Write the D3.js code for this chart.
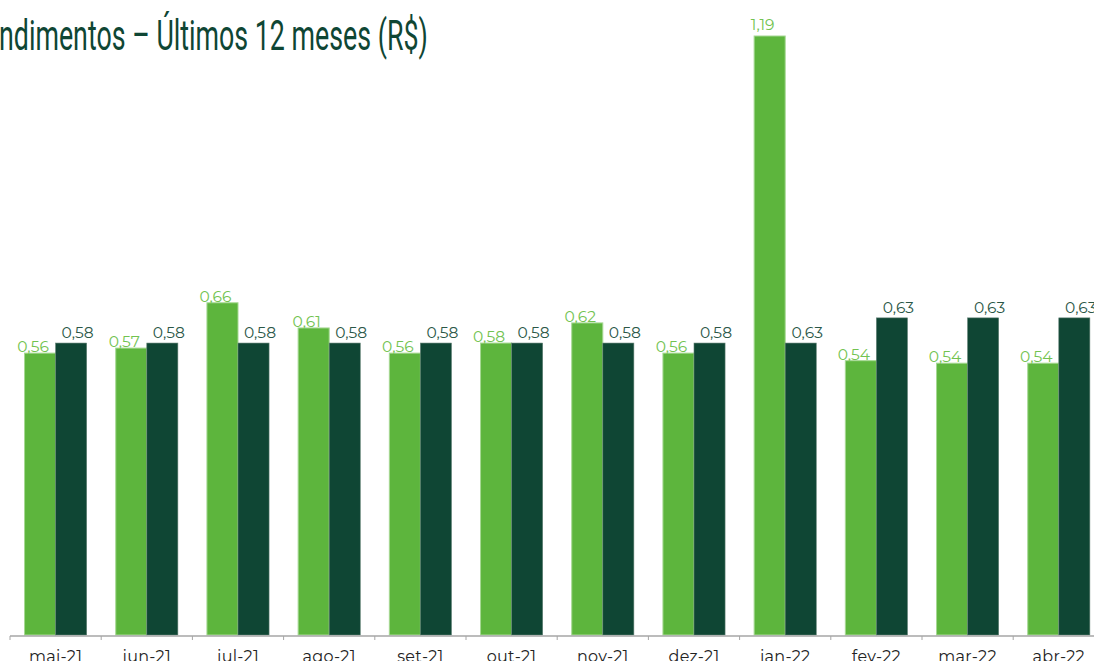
<!DOCTYPE html>
<html>
<head>
<meta charset="utf-8">
<script src="https://cdn.jsdelivr.net/npm/d3@7"></script>
<style>
  body { margin: 0; background: #fff; overflow: hidden; }
  svg { display: block; }
</style>
</head>
<body>
<svg width="1094" height="661"></svg>
<script>
/* global d3:true */

const months = ['mai-21', 'jun-21', 'jul-21', 'ago-21', 'set-21', 'out-21', 'nov-21', 'dez-21', 'jan-22', 'fev-22', 'mar-22', 'abr-22']
// bar heights as drawn in the source picture
const lightValues = [0.56, 0.57, 0.66, 0.61, 0.56, 0.58, 0.62, 0.56, 1.19, 0.545, 0.54, 0.54]
const darkValues = [0.58, 0.58, 0.58, 0.58, 0.58, 0.58, 0.58, 0.58, 0.58, 0.63, 0.63, 0.63]
// printed labels
const lightLabels = ['0,56', '0,57', '0,66', '0,61', '0,56', '0,58', '0,62', '0,56', '1,19', '0,54', '0,54', '0,54']
const darkLabels = ['0,58', '0,58', '0,58', '0,58', '0,58', '0,58', '0,58', '0,58', '0,63', '0,63', '0,63', '0,63']
const title = 'Rendimentos – Últimos 12 meses (R$)'

const lightColor = '#5db53d'
const darkColor = '#0f4634'

const svg = d3.select('svg')
const baseY = 635

const x = d3.scaleBand()
  .domain(months)
  .range([10, 10 + 91.2 * months.length])
  .paddingInner(0)
  .paddingOuter(0)

const sub = d3.scaleBand()
  .domain(['light', 'dark'])
  .range([0, x.bandwidth()])
  .paddingInner(0)
  .paddingOuter(0.468)

const y = d3.scaleLinear().domain([0, 1.19]).range([baseY, 36])

// title, cut off at the left edge like the source (condensed by scaling)
const titleText = svg.append('text')
  .attr('x', 0)
  .attr('y', 50)
  .attr('fill', '#0f4634')
  .style('font-family', 'Roboto, "Noto Sans", sans-serif')
  .style('font-size', '42px')
  .style('font-weight', 400)
  .text(title)

const full = titleText.node().getComputedTextLength()
const pre = titleText.node().getSubStringLength(0, 2)
const sx = 429 / (full - pre)
titleText.attr('transform', 'translate(' + (-1 - pre * sx) + ',0) scale(' + sx + ',1)')

const groups = svg.append('g')
  .selectAll('g')
  .data(months)
  .enter().append('g')
  .attr('transform', (d) => 'translate(' + x(d) + ',0)')

groups.append('rect')
  .attr('x', sub('light'))
  .attr('y', (d, i) => y(lightValues[i]))
  .attr('width', sub.bandwidth())
  .attr('height', (d, i) => baseY - y(lightValues[i]))
  .attr('fill', lightColor)
  .attr('stroke', '#a6d893')
  .attr('stroke-width', 1)

groups.append('rect')
  .attr('x', sub('dark'))
  .attr('y', (d, i) => y(darkValues[i]))
  .attr('width', sub.bandwidth())
  .attr('height', (d, i) => baseY - y(darkValues[i]))
  .attr('fill', darkColor)
  .attr('stroke', '#5f7f72')
  .attr('stroke-width', 0.6)

const labelFont = '"Montserrat", "Noto Sans", sans-serif'

// the tallest bar's label sits a bit higher in the source
groups.append('text')
  .attr('x', sub('light') + sub.bandwidth() / 2 - 7)
  .attr('y', (d, i) => y(lightValues[i]) - (lightValues[i] > 1 ? 6 : 1))
  .attr('text-anchor', 'middle')
  .attr('fill', '#72c350')
  .style('font-family', labelFont)
  .style('font-size', '15.5px')
  .text((d, i) => lightLabels[i])

groups.append('text')
  .attr('x', sub('dark') + sub.bandwidth() / 2 + 6.5)
  .attr('y', (d, i) => y(darkValues[i]) - 5)
  .attr('text-anchor', 'middle')
  .attr('fill', '#2b5747')
  .style('font-family', labelFont)
  .style('font-size', '15.5px')
  .text((d, i) => darkLabels[i])

// x axis
const axis = svg.append('g')
  .attr('transform', 'translate(0,' + (baseY + 1) + ')')

axis.append('line')
  .attr('x1', 10)
  .attr('x2', 1094)
  .attr('stroke', '#a6a6a6')
  .attr('stroke-width', 1.5)

axis.selectAll('.tick')
  .data(months)
  .enter().append('line')
  .attr('class', 'tick')
  .attr('x1', (d) => x(d))
  .attr('x2', (d) => x(d))
  .attr('y1', 0)
  .attr('y2', 4)
  .attr('stroke', '#a6a6a6')

axis.selectAll('.lbl')
  .data(months)
  .enter().append('text')
  .attr('class', 'lbl')
  .attr('x', (d) => x(d) + x.bandwidth() / 2)
  .attr('y', 26)
  .attr('text-anchor', 'middle')
  .attr('fill', '#222')
  .style('font-family', labelFont)
  .style('font-size', '16px')
  .style('letter-spacing', '0.3px')
  .text((d) => d)
</script>
</body>
</html>
